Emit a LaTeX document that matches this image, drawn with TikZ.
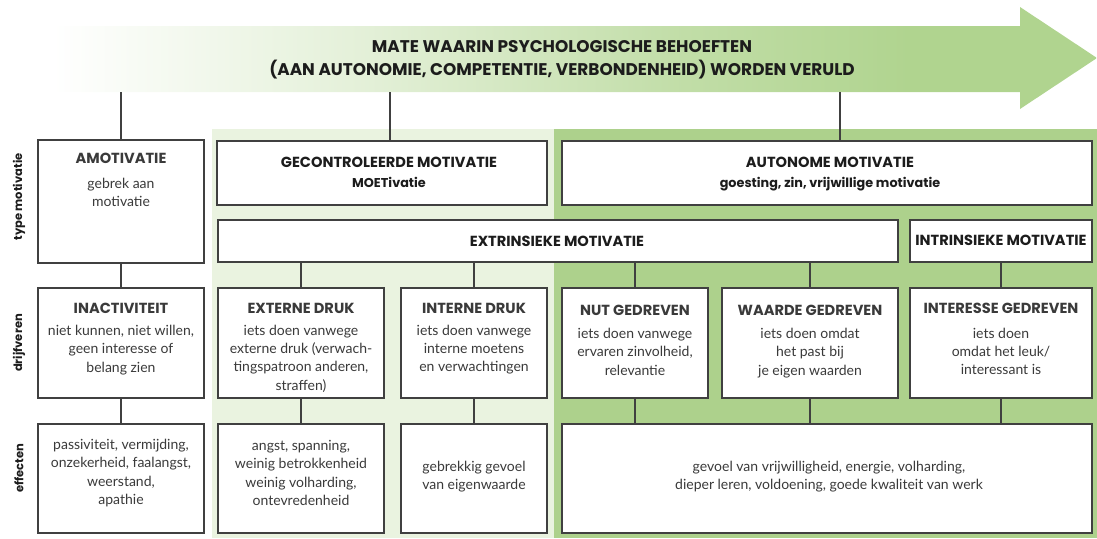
\documentclass[tikz,border=0pt]{standalone}
\usepackage{fontspec}
\setmainfont{Lato}
\newfontfamily\headfont{Poppins}
\usetikzlibrary{calc}

\definecolor{linegray}{HTML}{404040}
\definecolor{paleleaf}{HTML}{EAF3E0}
\definecolor{leaf}{HTML}{ADD18C}
\definecolor{arrowleaf}{HTML}{B0D48F}
\definecolor{inkdark}{HTML}{1C1C1C}
\definecolor{inkbody}{HTML}{3A3A3A}

% fade of the needs arrow: the path spans 25bp..75bp of this shading
\pgfdeclarehorizontalshading{needsfade}{100bp}{%
  color(0bp)=(white); color(25bp)=(white);
  color(40bp)=(arrowleaf!35!white); color(55bp)=(arrowleaf!78!white);
  color(66bp)=(arrowleaf); color(100bp)=(arrowleaf)}

\newcommand\hd[1]{{\headfont\bfseries\fontsize{14.6}{18}\selectfont #1}}
\newcommand\sub[1]{{\headfont\bfseries\fontsize{12.8}{18}\selectfont #1}}

\begin{document}
\begin{tikzpicture}[x=1pt,y=-1pt,
  box/.style={draw=linegray, line width=1.3pt, fill=white, inner sep=0pt, outer sep=0pt},
  link/.style={draw=linegray, line width=1.3pt},
  body/.style={text=inkbody, align=center, inner sep=0pt, font=\fontsize{14}{18.2}\selectfont},
  head/.style={text=inkdark, align=center, inner sep=0pt, font=\fontsize{14}{18}\selectfont},
  rowlabel/.style={rotate=90, text=inkdark, inner sep=0pt, font=\headfont\bfseries\fontsize{11.5}{13}\selectfont},
]
\useasboundingbox (0,0) rectangle (1097,538);

% background bands
\fill[paleleaf] (212,129) rectangle (554,538);
\fill[leaf] (554,129) rectangle (1097,538);

% needs arrow
\shade[shading=needsfade] (53,26) -- (1020,26) -- (1020,7) -- (1097,58)
  -- (1020,109) -- (1020,92) -- (53,92) -- cycle;
\node[head, font=\headfont\bfseries\fontsize{16.9}{22.5}\selectfont] (needs) at (562,59.5)
  {MATE WAARIN PSYCHOLOGISCHE BEHOEFTEN\\(AAN AUTONOMIE, COMPETENTIE, VERBONDENHEID) WORDEN VERULD};
\coordinate (na) at (121,92);
\coordinate (nb) at (390,92);
\coordinate (nc) at (840,92);

% row labels
\node[rowlabel] (lab1) at (19,197) {type motivatie};
\node[rowlabel] (lab2) at (19,343) {drijfveren};
\node[rowlabel] (lab3) at (19,468) {effecten};

% boxes
\node[box, minimum width=166, minimum height=123] (amo) at (121,201.5) {};
\node[box, minimum width=166, minimum height=110] (inact) at (121,343) {};
\node[box, minimum width=166, minimum height=109] (passiv) at (121,478.5) {};
\node[box, minimum width=330, minimum height=64] (gecon) at (382,173) {};
\node[box, minimum width=530, minimum height=64] (auton) at (827,173) {};
\node[box, minimum width=680, minimum height=42] (extr) at (558,241) {};
\node[box, minimum width=182, minimum height=42] (intr) at (1001,241) {};
\node[box, minimum width=166, minimum height=110] (ext) at (301,343) {};
\node[box, minimum width=146, minimum height=110] (int) at (474,343) {};
\node[box, minimum width=146, minimum height=110] (nut) at (635,343) {};
\node[box, minimum width=176, minimum height=110] (waarde) at (810,343) {};
\node[box, minimum width=182, minimum height=110] (inter) at (1001,343) {};
\node[box, minimum width=166, minimum height=109] (angst) at (301,478.5) {};
\node[box, minimum width=146, minimum height=109] (gebrek) at (474,478.5) {};
\node[box, minimum width=530, minimum height=109] (gevoel) at (827,478.5) {};

% connectors
\draw[link] (na) -- (amo);
\draw[link] (nb) -- (nb |- gecon.north);
\draw[link] (nc) -- (nc |- auton.north);
\draw[link] (amo) -- (inact);
\draw[link] (inact) -- (passiv);
\draw[link] (ext.north |- extr.south) -- (ext);
\draw[link] (int.north |- extr.south) -- (int);
\draw[link] (nut.north |- extr.south) -- (nut);
\draw[link] (waarde.north |- extr.south) -- (waarde);
\draw[link] (intr) -- (inter);
\draw[link] (ext) -- (angst);
\draw[link] (int) -- (gebrek);
\draw[link] (nut) -- (nut.south |- gevoel.north);
\draw[link] (waarde) -- (waarde.south |- gevoel.north);
\draw[link] (inter) -- (inter.south |- gevoel.north);

% texts: type of motivation
\node[body, anchor=north] (amo-t) at (121,152.9) {\hd{AMOTIVATIE}\\[7pt]gebrek aan\\motivatie};
\node[head, anchor=north] (gecon-t) at (389,156.9) {\hd{GECONTROLEERDE MOTIVATIE}\\[2pt]\sub{MOETivatie}};
\node[head, anchor=north] (auton-t) at (830,156.9) {\hd{AUTONOME MOTIVATIE}\\[2pt]\sub{goesting, zin, vrijwillige motivatie}};
\node[head] (extr-t) at (557,241) {\hd{EXTRINSIEKE MOTIVATIE}};
\node[head] (intr-t) at (1001,240) {\hd{INTRINSIEKE MOTIVATIE}};

% texts: drivers
\node[body, anchor=north] (inact-t) at (121,302.9) {\hd{INACTIVITEIT}\\[4pt]niet kunnen, niet willen,\\geen interesse of\\belang zien};
\node[body, anchor=north] (ext-t) at (301,302.9) {\hd{EXTERNE DRUK}\\[4pt]iets doen vanwege\\externe druk (verwach-\\tingspatroon anderen,\\straffen)};
\node[body, anchor=north] (int-t) at (474,302.9) {\hd{INTERNE DRUK}\\[4pt]iets doen vanwege\\interne moetens\\en verwachtingen};
\node[body, anchor=north] (nut-t) at (635,304.9) {\hd{NUT GEDREVEN}\\[5pt]iets doen vanwege\\ervaren zinvolheid,\\relevantie};
\node[body, anchor=north] (waarde-t) at (810,304.9) {\hd{WAARDE GEDREVEN}\\[5pt]iets doen omdat\\het past bij\\je eigen waarden};
\node[body, anchor=north] (inter-t) at (1001,302.5) {\hd{INTERESSE GEDREVEN}\\[7pt]iets doen\\omdat het leuk/\\interessant is};

% texts: effects
\node[body] (passiv-t) at (121,473) {passiviteit, vermijding,\\onzekerheid, faalangst,\\weerstand,\\apathie};
\node[body] (angst-t) at (301,473) {angst, spanning,\\weinig betrokkenheid\\weinig volharding,\\ontevredenheid};
\node[body] (gebrek-t) at (474,477) {gebrekkig gevoel\\van eigenwaarde};
\node[body] (gevoel-t) at (829,477) {gevoel van vrijwilligheid, energie, volharding,\\dieper leren, voldoening, goede kwaliteit van werk};
\end{tikzpicture}
\end{document}
